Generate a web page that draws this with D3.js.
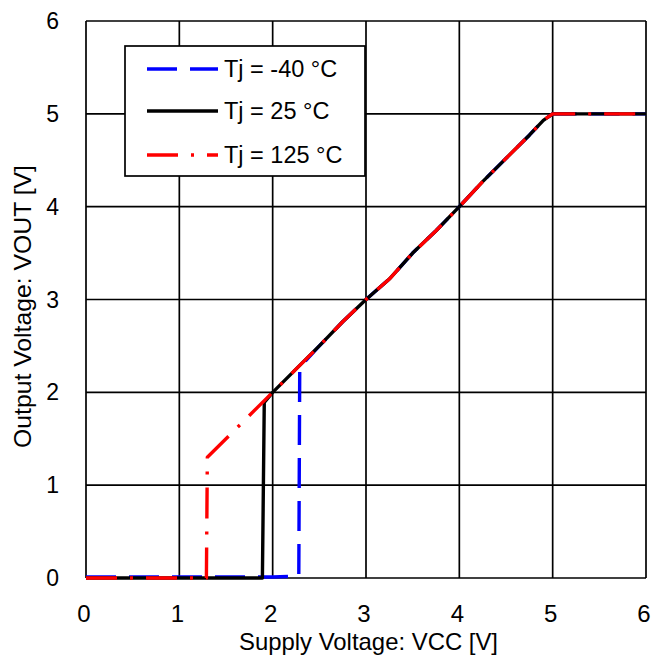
<!DOCTYPE html>
<html>
<head>
<meta charset="utf-8">
<script src="https://cdn.jsdelivr.net/npm/d3@7"></script>
<style>
  body { margin: 0; background: #fff; }
  text { font-family: "Liberation Sans", Arial, sans-serif; fill: #000; }
</style>
</head>
<body>
<div id="chart"></div>
<script>
// supply voltage (V) and output voltage (V) for each junction temperature
const vccCold = [0, 1.0, 2.0, 2.28, 2.29, 2.5, 2.75, 3.0, 3.25, 3.5, 3.75, 4.0, 4.25, 4.5, 4.75, 4.9, 5.0, 5.5, 6.0];
const voutCold = [0.01, 0.01, 0.01, 0.02, 2.27, 2.5, 2.76, 3.0, 3.22, 3.5, 3.74, 4.0, 4.27, 4.52, 4.77, 4.93, 5.0, 5.0, 5.0];
const vccRoom = [0, 1.0, 1.89, 1.91, 2.0, 2.25, 2.5, 2.75, 3.0, 3.25, 3.5, 3.75, 4.0, 4.25, 4.5, 4.75, 4.9, 5.0, 5.5, 6.0];
const voutRoom = [0, 0, 0, 1.89, 2.0, 2.25, 2.5, 2.76, 3.0, 3.22, 3.5, 3.74, 4.0, 4.27, 4.52, 4.77, 4.93, 5.0, 5.0, 5.0];
const vccHot = [0, 1.0, 1.29, 1.30, 1.6, 2.0, 2.25, 2.5, 2.75, 3.0, 3.25, 3.5, 3.75, 4.0, 4.25, 4.5, 4.75, 4.9, 5.0, 5.5, 6.0];
const voutHot = [0, 0, 0, 1.30, 1.6, 2.0, 2.25, 2.5, 2.76, 3.0, 3.22, 3.5, 3.74, 4.0, 4.27, 4.52, 4.77, 4.93, 5.0, 5.0, 5.0];
const seriesNames = ["Tj = -40 °C", "Tj = 25 °C", "Tj = 125 °C"];
const xTicks = [0, 1, 2, 3, 4, 5, 6];
const yTicks = [0, 1, 2, 3, 4, 5, 6];

const width = 669, height = 656;
const margin = { top: 21, right: 23, bottom: 78, left: 86 };

const svg = d3.select("#chart").append("svg")
  .attr("width", width)
  .attr("height", height);

const x = d3.scaleLinear().domain([0, 6]).range([margin.left, width - margin.right]);
const y = d3.scaleLinear().domain([0, 6]).range([height - margin.bottom, margin.top]);

// grid
svg.append("g").selectAll("line.v").data(xTicks).enter().append("line")
  .attr("x1", d => x(d)).attr("x2", d => x(d))
  .attr("y1", y(0)).attr("y2", y(6))
  .attr("stroke", "#000").attr("stroke-width", 1.7);
svg.append("g").selectAll("line.h").data(yTicks).enter().append("line")
  .attr("x1", x(0)).attr("x2", x(6))
  .attr("y1", d => y(d)).attr("y2", d => y(d))
  .attr("stroke", "#000").attr("stroke-width", 1.7);

// tick labels
svg.append("g").selectAll("text").data(xTicks).enter().append("text")
  .attr("x", d => x(d) - 2).attr("y", y(0) + 44)
  .attr("text-anchor", "middle").attr("font-size", 24)
  .text(d => d);
svg.append("g").selectAll("text").data(yTicks).enter().append("text")
  .attr("x", x(0) - 27).attr("y", d => y(d) + 8)
  .attr("text-anchor", "end").attr("font-size", 23)
  .text(d => d);

// axis titles
svg.append("text")
  .attr("x", 239).attr("y", 650)
  .attr("font-size", 24)
  .attr("textLength", 259).attr("lengthAdjust", "spacingAndGlyphs")
  .text("Supply Voltage: VCC [V]");
svg.append("text")
  .attr("transform", "translate(31,448) rotate(-90)")
  .attr("font-size", 24)
  .attr("textLength", 283).attr("lengthAdjust", "spacingAndGlyphs")
  .text("Output Voltage: VOUT [V]");

// series
const series = [
  { xs: vccCold, ys: voutCold, color: "#0000ff", dash: "30,13" },
  { xs: vccRoom, ys: voutRoom, color: "#000000", dash: null },
  { xs: vccHot, ys: voutHot, color: "#ff0000", dash: "31,13,3,13" }
];
const line = d3.line().x(d => x(d[0])).y(d => y(d[1]));

// draw order: blue, black, red on top
series.forEach(s => {
  svg.append("path")
    .datum(s.xs.map((v, i) => [v, s.ys[i]]))
    .attr("d", line)
    .attr("fill", "none")
    .attr("stroke", s.color)
    .attr("stroke-width", 3.4)
    .attr("stroke-dasharray", s.dash)
    .attr("stroke-linejoin", "round");
});

// legend
const lg = svg.append("g");
lg.append("rect")
  .attr("x", 125).attr("y", 46).attr("width", 240).attr("height", 130)
  .attr("fill", "#fff").attr("stroke", "#000").attr("stroke-width", 1.7);
const legendY = [69, 111, 155];
series.forEach((s, i) => {
  lg.append("line")
    .attr("x1", 147).attr("x2", 218)
    .attr("y1", legendY[i]).attr("y2", legendY[i])
    .attr("stroke", s.color).attr("stroke-width", 3.4)
    .attr("stroke-dasharray", s.dash);
  lg.append("text")
    .attr("x", 224).attr("y", legendY[i] + 8)
    .attr("font-size", 23.5)
    .text(seriesNames[i]);
});
</script>
</body>
</html>
